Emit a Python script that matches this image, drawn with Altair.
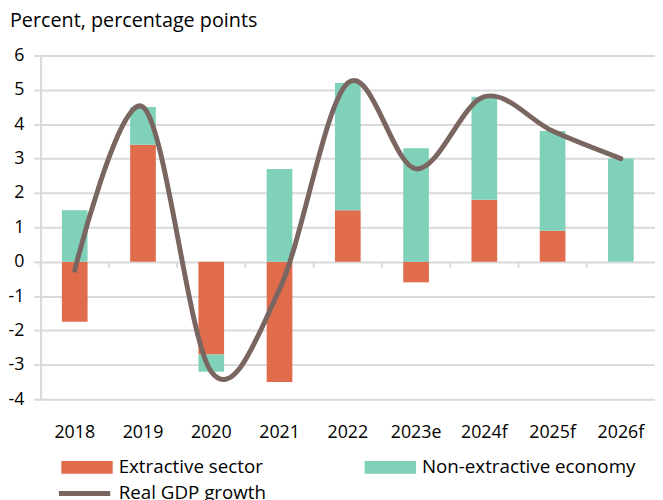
import altair as alt
import pandas as pd

years = ["2018", "2019", "2020", "2021", "2022", "2023e", "2024f", "2025f", "2026f"]
extractive = [-1.75, 3.4, -2.7, -3.5, 1.5, -0.6, 1.8, 0.9, 0.0]
non_extractive = [1.5, 1.1, -0.5, 2.7, 3.7, 3.3, 3.0, 2.9, 3.0]
gdp = [-0.25, 4.5, -3.2, -0.8, 5.2, 2.7, 4.8, 3.8, 3.0]
series_names = ["Extractive sector", "Non-extractive economy"]
line_name = "Real GDP growth"
y_ticks = [-4, -3, -2, -1, 0, 1, 2, 3, 4, 5, 6]

FONT = "Open Sans"
GRID = "#D9D9D9"

bars_df = pd.DataFrame({
    "year": years * 2,
    "value": extractive + non_extractive,
    "series": [series_names[0]] * len(years) + [series_names[1]] * len(years),
    "order": [0] * len(years) + [1] * len(years),
})
line_df = pd.DataFrame({"year": years, "value": gdp, "name": [line_name] * len(years)})
ticks_df = pd.DataFrame({"year": years})

xscale = alt.Scale(domain=years, paddingInner=0, paddingOuter=0)
yscale = alt.Scale(domain=[-4, 6], nice=False, zero=False)

xaxis = alt.Axis(title=None, labelAngle=0, domain=False, ticks=False, grid=False,
                 labelPadding=25, labelFontSize=18, labelFont=FONT, labelColor="#000")
yaxis = alt.Axis(title=None, values=y_ticks, grid=True, gridColor=GRID, gridWidth=2,
                 domain=True, domainColor=GRID, domainWidth=2,
                 ticks=True, tickSize=7, tickColor=GRID, tickWidth=2,
                 labelExpr="'' + datum.value",
                 labelPadding=10, labelFontSize=18, labelFont=FONT, labelColor="#000")

ticks = alt.Chart(ticks_df).mark_rule(color=GRID, strokeWidth=2).encode(
    x=alt.X("year:N", scale=xscale, axis=xaxis, bandPosition=0),
    y=alt.datum(0, scale=yscale, axis=yaxis),
    y2=alt.datum(-0.17),
)

bars = alt.Chart(bars_df).mark_bar(width=26).encode(
    x=alt.X("year:N", scale=xscale, axis=xaxis),
    y=alt.Y("value:Q", scale=yscale, axis=yaxis, stack="zero"),
    fill=alt.Fill("series:N",
                  scale=alt.Scale(domain=series_names, range=["#E06C4C", "#80D1B9"]),
                  legend=alt.Legend(title=None, orient="none", legendX=21, legendY=391,
                                    direction="horizontal", columns=2,
                                    symbolType="M-1,-0.25H1V0.25H-1Z", symbolSize=2704,
                                    symbolStrokeWidth=0, labelFontSize=19, labelFont=FONT,
                                    labelColor="#000", labelOffset=6, columnPadding=102,
                                    labelLimit=400, padding=0)),
    order=alt.Order("order:Q"),
)

line = alt.Chart(line_df).mark_line(interpolate="cardinal", tension=0, strokeWidth=5,
                                     strokeCap="round", strokeJoin="round").encode(
    x=alt.X("year:N", scale=xscale, axis=xaxis),
    y=alt.Y("value:Q", scale=yscale, axis=yaxis),
    stroke=alt.Stroke("name:N", scale=alt.Scale(domain=[line_name], range=["#7A6661"]),
                      legend=alt.Legend(title=None, orient="none", legendX=16, legendY=415,
                                        symbolType="stroke", symbolSize=2704,
                                        symbolStrokeWidth=5, labelFontSize=19, labelFont=FONT,
                                        labelColor="#000", labelOffset=6, labelLimit=400,
                                        padding=0)),
)

chart = alt.layer(ticks, bars, line).resolve_scale(fill="independent", stroke="independent").properties(
    width=622,
    height=348,
    autosize=alt.AutoSizeParams(type="none"),
    padding={"left": 33, "top": 45, "right": 0, "bottom": 99},
    title=alt.TitleParams("Percent, percentage points", anchor="start", frame="group",
                          dx=-31, offset=16,
                          fontSize=20, font=FONT, fontWeight="normal", color="#000"),
).configure_view(stroke=None).configure(font=FONT)

chart.save("out.html", embed_options={"renderer": "svg", "actions": False})
